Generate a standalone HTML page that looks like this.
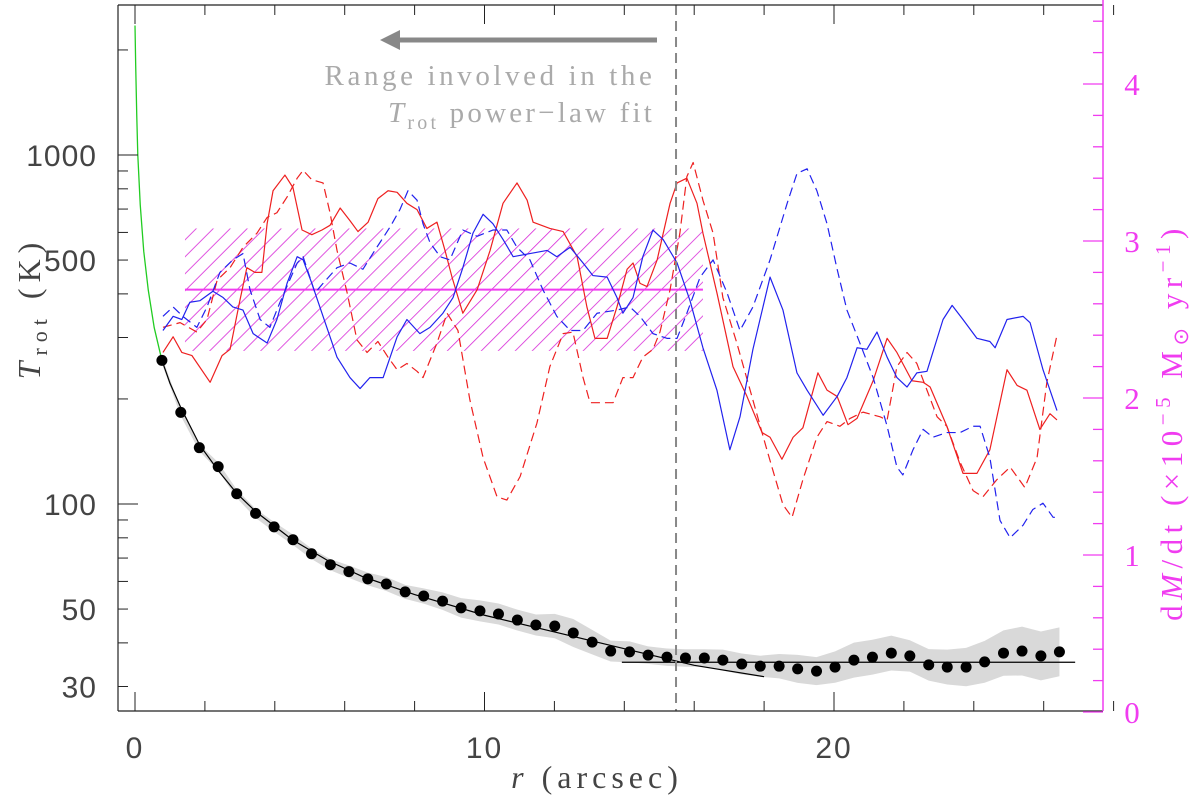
<!DOCTYPE html>
<html><head><meta charset="utf-8"><style>
html,body{margin:0;padding:0;background:#fff;}
svg{display:block;}
</style></head><body>
<svg id="chart" width="1200" height="801" viewBox="0 0 1200 801" xmlns="http://www.w3.org/2000/svg">
<defs>
<pattern id="hatch" patternUnits="userSpaceOnUse" width="12" height="12" patternTransform="rotate(45)">
<line x1="0" y1="0" x2="0" y2="12" stroke="#d82ad8" stroke-width="1.6"/>
</pattern>
</defs>
<g id="plot"></g>
<g id="axes"></g>
</svg>
<script>
// ---- data ----
const dotR = [0.77,1.31,1.84,2.38,2.91,3.45,3.98,4.52,5.05,5.59,6.12,6.66,7.19,7.73,8.26,8.80,9.33,9.87,10.40,10.94,11.47,12.01,12.54,13.08,13.61,14.15,14.68,15.22,15.75,16.29,16.82,17.36,17.89,18.43,18.96,19.50,20.03,20.57,21.10,21.64,22.17,22.71,23.24,23.78,24.31,24.85,25.38,25.92,26.45];
const dotT = [258,183,145,128,107,94,86,79,72,67,64,61,59,56,54.5,52.7,50.4,49.4,48.4,46.5,45,44.7,42.7,40.2,37.9,37.7,36.9,36.4,36.2,36.2,35.7,34.8,34.3,34.3,33.7,33.2,34.1,35.7,36.4,37.4,36.7,34.6,34.1,34.1,35.3,37.4,37.9,36.7,37.7];
const dotErrDex = [0.01,0.01,0.01,0.012,0.012,0.013,0.014,0.015,0.015,0.016,0.018,0.018,0.02,0.02,0.022,0.025,0.028,0.03,0.03,0.03,0.03,0.035,0.04,0.035,0.03,0.03,0.025,0.025,0.025,0.025,0.03,0.03,0.03,0.035,0.04,0.04,0.045,0.05,0.05,0.05,0.045,0.045,0.05,0.055,0.06,0.065,0.07,0.07,0.07];
const greenR = [0,0.02,0.05,0.08,0.15,0.25,0.38,0.55,0.77];
const greenT = [2350,1800,1300,1000,720,530,410,320,258];
const fitR = [0.77,1.0,1.32,1.86,2.4,2.92,3.46,4.5,5.5,6.5,8,10,12,14,16,18];
const fitT = [258,222,188,147,124,107,95,79,69,62,55,48,43,38.5,34.5,32];
const flatR = [13.93,26.9];
const flatT = [35.2,35.2];
const hatchR = [1.43,16.25];
const mdotMean = 2.69, mdotLo = 2.30, mdotHi = 3.08;
const cutR = 15.48;

const redSolidR = [0.80,1.09,1.34,1.63,2.15,2.49,2.72,3.00,3.20,3.43,3.63,3.78,3.95,4.29,4.52,4.78,5.06,5.35,5.58,5.87,6.15,6.38,6.67,6.95,7.24,7.50,7.78,8.07,8.35,8.64,8.87,9.07,9.38,9.79,10.16,10.53,10.93,11.22,11.39,11.87,12.25,12.65,12.93,13.16,13.51,13.79,14.08,14.25,14.45,14.65,14.94,15.31,15.51,15.79,16.08,16.25,16.65,17.11,17.51,17.94,18.17,18.51,18.83,19.11,19.54,19.80,20.09,20.40,20.66,21.12,21.52,21.80,22.23,22.55,22.75,23.23,23.69,24.09,24.46,24.95,25.24,25.52,25.89,26.18,26.38];
const redSolidV = [2.29,2.39,2.29,2.27,2.10,2.27,2.31,2.62,2.83,2.80,2.80,3.11,3.32,3.42,3.34,3.07,3.04,3.07,3.10,3.21,3.13,3.06,3.12,3.27,3.32,3.31,3.24,3.20,3.08,3.12,2.94,2.77,2.54,2.69,2.94,3.24,3.37,3.26,3.12,3.08,3.06,2.90,2.58,2.38,2.38,2.58,2.82,2.86,2.73,2.71,2.88,3.24,3.37,3.40,3.24,3.05,2.67,2.20,2.01,1.78,1.75,1.61,1.75,1.81,2.16,2.05,2.01,1.83,1.87,2.11,2.38,2.29,2.11,2.10,2.07,1.82,1.52,1.52,1.67,2.18,2.08,2.05,1.80,1.90,1.86];
const redDashR = [0.80,1.29,1.77,2.06,2.35,2.72,3.09,3.49,3.78,4.06,4.35,4.64,4.81,5.06,5.38,5.58,5.78,6.07,6.35,6.64,6.95,7.24,7.50,7.78,8.07,8.24,8.64,8.93,9.24,9.58,9.96,10.36,10.64,11.02,11.50,11.87,12.25,12.53,12.82,13.02,13.39,13.68,13.96,14.25,14.53,14.82,15.02,15.31,15.59,15.79,15.97,16.25,16.54,16.82,17.22,17.60,18.08,18.54,18.80,19.11,19.51,19.80,20.17,20.46,20.83,21.32,21.52,21.80,22.09,22.37,22.66,22.95,23.23,23.61,23.98,24.26,24.66,25.04,25.46,25.81,26.09,26.38];
const redDashV = [2.45,2.48,2.42,2.50,2.75,2.83,2.96,3.05,3.15,3.18,3.28,3.40,3.45,3.39,3.37,3.18,2.94,2.67,2.37,2.29,2.36,2.26,2.18,2.22,2.17,2.13,2.35,2.54,2.43,1.99,1.62,1.37,1.35,1.50,1.84,2.20,2.41,2.42,2.13,1.97,1.97,1.97,2.13,2.13,2.26,2.31,2.42,2.69,3.05,3.41,3.50,3.26,3.05,2.64,2.35,2.05,1.67,1.32,1.24,1.48,1.75,1.85,1.82,1.87,1.91,1.88,1.86,2.20,2.29,2.22,2.05,1.88,1.82,1.59,1.41,1.37,1.48,1.56,1.43,1.62,2.10,2.40];
const blueSolidR = [0.80,1.09,1.34,1.57,1.86,2.23,2.52,2.80,3.09,3.38,3.78,4.06,4.35,4.64,4.81,5.06,5.38,5.78,6.15,6.44,6.72,7.10,7.50,7.78,8.15,8.44,8.81,9.10,9.38,9.67,9.96,10.24,10.53,10.82,11.30,11.79,12.07,12.45,12.82,13.10,13.51,13.79,13.96,14.25,14.53,14.82,15.11,15.51,15.88,16.25,16.65,17.02,17.31,17.68,18.17,18.54,18.94,19.23,19.69,20.09,20.37,20.66,20.94,21.23,21.52,21.80,22.09,22.37,22.66,23.12,23.38,23.69,24.09,24.46,24.61,24.95,25.41,25.61,25.98,26.38];
const blueSolidV = [2.43,2.52,2.50,2.61,2.62,2.68,2.64,2.58,2.56,2.41,2.35,2.50,2.73,2.90,2.88,2.73,2.52,2.26,2.13,2.06,2.13,2.13,2.39,2.50,2.41,2.45,2.54,2.64,2.83,3.05,3.17,3.11,3.01,2.90,2.92,2.94,2.90,2.96,2.86,2.78,2.77,2.64,2.54,2.64,2.90,3.07,3.01,2.86,2.62,2.32,2.05,1.67,1.88,2.31,2.77,2.56,2.16,2.05,1.89,2.01,2.13,2.32,2.31,2.42,2.26,2.13,2.07,2.16,2.17,2.50,2.59,2.50,2.38,2.36,2.32,2.50,2.52,2.48,2.18,1.92];
const blueDashR = [0.80,1.09,1.37,1.77,2.06,2.43,2.80,3.09,3.29,3.58,3.86,4.15,4.64,4.81,5.15,5.38,5.78,6.15,6.52,6.92,7.30,7.58,7.81,8.07,8.24,8.44,8.73,9.01,9.38,9.79,10.24,10.64,10.93,11.30,11.67,12.07,12.45,12.82,13.22,13.79,14.16,14.45,14.82,15.22,15.51,15.79,16.17,16.54,16.94,17.31,17.68,18.17,18.66,18.94,19.23,19.51,19.80,20.09,20.37,20.74,21.12,21.52,21.80,21.97,22.26,22.55,22.83,23.23,23.61,23.98,24.18,24.46,24.75,25.04,25.41,25.69,25.98,26.27,26.38];
const blueDashV = [2.52,2.58,2.52,2.45,2.58,2.80,2.88,2.92,2.69,2.50,2.45,2.61,2.86,2.90,2.67,2.73,2.83,2.86,2.82,2.96,3.09,3.20,3.32,3.26,3.11,2.99,2.90,2.88,3.07,3.03,3.07,3.07,2.96,2.88,2.69,2.52,2.43,2.43,2.54,2.56,2.58,2.52,2.41,2.38,2.38,2.54,2.77,2.88,2.67,2.43,2.58,2.88,3.24,3.43,3.46,3.32,3.11,2.82,2.56,2.35,2.13,1.82,1.56,1.51,1.67,1.80,1.75,1.78,1.78,1.82,1.82,1.62,1.22,1.11,1.19,1.29,1.33,1.24,1.24];

const xTicksMajor = [0,10,20];
const xTickLabels = ["0","10","20"];
const yLeftLabelsV = [1000,500,100,50,30];
const yLeftLabels = ["1000","500","100","50","30"];
const yRightLabelsV = [0,1,2,3,4];
const yRightLabels = ["0","1","2","3","4"];

// ---- scales ----
const X0=135, XS=34.95, LEFT=118, RIGHT=1103, TOP=5, BOT=711;
const X = r => X0 + r*XS;
const YL = T => 155 + (3 - Math.log10(T))*349;
const YR = v => 712 - v*157;
const NS="http://www.w3.org/2000/svg";
const plot=document.getElementById('plot'), axes=document.getElementById('axes');
function mk(tag, attrs, parent){const e=document.createElementNS(NS,tag);for(const k in attrs)e.setAttribute(k,attrs[k]);parent.appendChild(e);return e;}

let up=dotR.map((r,i)=>X(r)+','+YL(dotT[i]*Math.pow(10,dotErrDex[i]))), dn=dotR.map((r,i)=>X(r)+','+YL(dotT[i]/Math.pow(10,dotErrDex[i]))).reverse();
let band=mk('polygon',{points:up.concat(dn).join(' '),fill:'#d9d9d9',stroke:'none'},plot);



let hb=mk('rect',{x:X(hatchR[0]),y:YR(mdotHi),width:X(hatchR[1])-X(hatchR[0]),height:YR(mdotLo)-YR(mdotHi),fill:'url(#hatch)'},plot);


let hl=mk('line',{x1:X(hatchR[0]),x2:X(hatchR[1]),y1:YR(mdotMean),y2:YR(mdotMean),stroke:'#f03cf0','stroke-width':2},plot);



function series(rs,vs,color,dash,name){
  const p=mk('polyline',{points:rs.map((r,i)=>X(r)+','+YR(vs[i])).join(' '),fill:'none',stroke:color,'stroke-width':1.2,'stroke-linejoin':'round'},plot);
  if(dash)p.setAttribute('stroke-dasharray',dash);
  
  
}
series(redSolidR,redSolidV,'#ee2020',null,'red-solid-line');
series(redDashR,redDashV,'#ee2020','9,5','red-dashed-line');
series(blueSolidR,blueSolidV,'#2222ee',null,'blue-solid-line');
series(blueDashR,blueDashV,'#2222ee','9,5','blue-dashed-line');

let g=mk('polyline',{points:greenR.map((r,i)=>X(r)+','+YL(greenT[i])).join(' '),fill:'none',stroke:'#22cc22','stroke-width':1.3},plot);


let f=mk('polyline',{points:fitR.map((r,i)=>X(r)+','+YL(fitT[i])).join(' '),fill:'none',stroke:'#000','stroke-width':1.2},plot);


let fl=mk('polyline',{points:flatR.map((r,i)=>X(r)+','+YL(flatT[i])).join(' '),fill:'none',stroke:'#000','stroke-width':1.2},plot);



dotR.forEach((r,i)=>{
  const c=mk('circle',{cx:X(r),cy:YL(dotT[i]),r:5.5,fill:'#000'},plot);
  
  
});

let cl=mk('line',{x1:X(cutR),x2:X(cutR),y1:TOP,y2:BOT,stroke:'#888','stroke-width':2,'stroke-dasharray':'10,6'},plot);



mk('line',{x1:LEFT,x2:LEFT,y1:TOP,y2:BOT,stroke:'#222','stroke-width':1.2},axes);
mk('line',{x1:LEFT,x2:RIGHT,y1:BOT,y2:BOT,stroke:'#222','stroke-width':1.2},axes);
mk('line',{x1:LEFT,x2:RIGHT,y1:TOP,y2:TOP,stroke:'#222','stroke-width':1.2},axes);
mk('line',{x1:RIGHT,x2:RIGHT,y1:0,y2:BOT,stroke:'#f03cf0','stroke-width':1.5},axes);
for(let r=0;r<=28;r+=2){
  const len = (r%10===0)?19:10;
  mk('line',{x1:X(r),x2:X(r),y1:BOT,y2:BOT-len,stroke:'#222','stroke-width':1},axes);
  mk('line',{x1:X(r),x2:X(r),y1:TOP,y2:TOP+len,stroke:'#222','stroke-width':1},axes);
}
[20,30,40,50,60,70,80,90,100,200,300,400,500,600,700,800,900,1000,2000].forEach(t=>{
  const y=YL(t); if(y<TOP||y>BOT)return;
  const len=(t===100||t===1000)?20:10;
  mk('line',{x1:LEFT,x2:LEFT+len,y1:y,y2:y,stroke:'#222','stroke-width':1},axes);
});
for(let k=0;k<=22;k++){
  const v=k*0.2,y=YR(v); if(y<TOP)continue;
  const len=(k%5===0)?20:10;
  mk('line',{x1:RIGHT,x2:RIGHT-len,y1:y,y2:y,stroke:'#f03cf0','stroke-width':1.3},axes);
}
function txt(s,attrs,name,parent){const t=mk('text',attrs,parent||axes);t.textContent=s;return t;}
xTicksMajor.forEach((r,i)=>txt(xTickLabels[i],{x:X(r),y:758,'text-anchor':'middle','font-family':'Liberation Sans, sans-serif','font-size':30,'letter-spacing':2,fill:'#444'},'x-tick-label'));
yLeftLabelsV.forEach((t,i)=>txt(yLeftLabels[i],{x:97,y:YL(t)+11,'text-anchor':'end','font-family':'Liberation Sans, sans-serif','font-size':30,'letter-spacing':1,fill:'#444'},'y-left-tick-label'));
yRightLabelsV.forEach((v,i)=>txt(yRightLabels[i],{x:1132,y:YR(v)+11,'text-anchor':'middle','font-family':'Liberation Serif, serif','font-size':31,fill:'#f03cf0'},'y-right-tick-label'));
</script>
<div style="position:absolute;left:0;top:0;width:1200px;height:801px;pointer-events:none;">
<svg width="1200" height="801" style="position:absolute;left:0;top:0;">
<g>
<line x1="657" y1="40" x2="395" y2="40" stroke="#888" stroke-width="5"/>
<polygon points="380,40 400,30 400,50" fill="#888"/>
<text x="490" y="85" text-anchor="middle" font-family="Liberation Serif, serif" font-size="29" letter-spacing="3.6" fill="#aaa">Range involved in the</text>
<text x="655" y="122" text-anchor="end" font-family="Liberation Serif, serif" font-size="29" letter-spacing="3.2" fill="#aaa"><tspan font-style="italic">T</tspan><tspan font-size="20" dy="7">rot</tspan><tspan dy="-7"> power−law fit</tspan></text>
</g>
<text x="597" y="788" text-anchor="middle" font-family="Liberation Serif, serif" font-size="32" letter-spacing="5" fill="#444"><tspan font-style="italic">r</tspan> (arcsec)</text>
<text transform="translate(40,308) rotate(-90)" text-anchor="middle" font-family="Liberation Serif, serif" font-size="32" letter-spacing="6" fill="#444"><tspan font-style="italic">T</tspan><tspan font-size="22" dy="7">rot</tspan><tspan dy="-7"> (K)</tspan></text>
<text transform="translate(1182,422) rotate(-90)" text-anchor="middle" font-family="Liberation Serif, serif" font-size="31" letter-spacing="5.5" fill="#f03cf0">d<tspan font-style="italic">M</tspan>/dt (×10<tspan font-size="21" dy="-12">−5</tspan><tspan dy="12"> M</tspan><tspan font-size="21" dy="6">⊙</tspan><tspan dy="-6"> yr</tspan><tspan font-size="21" dy="-12">−1</tspan><tspan dy="12">)</tspan></text>
</svg>
</div>
</body></html>
